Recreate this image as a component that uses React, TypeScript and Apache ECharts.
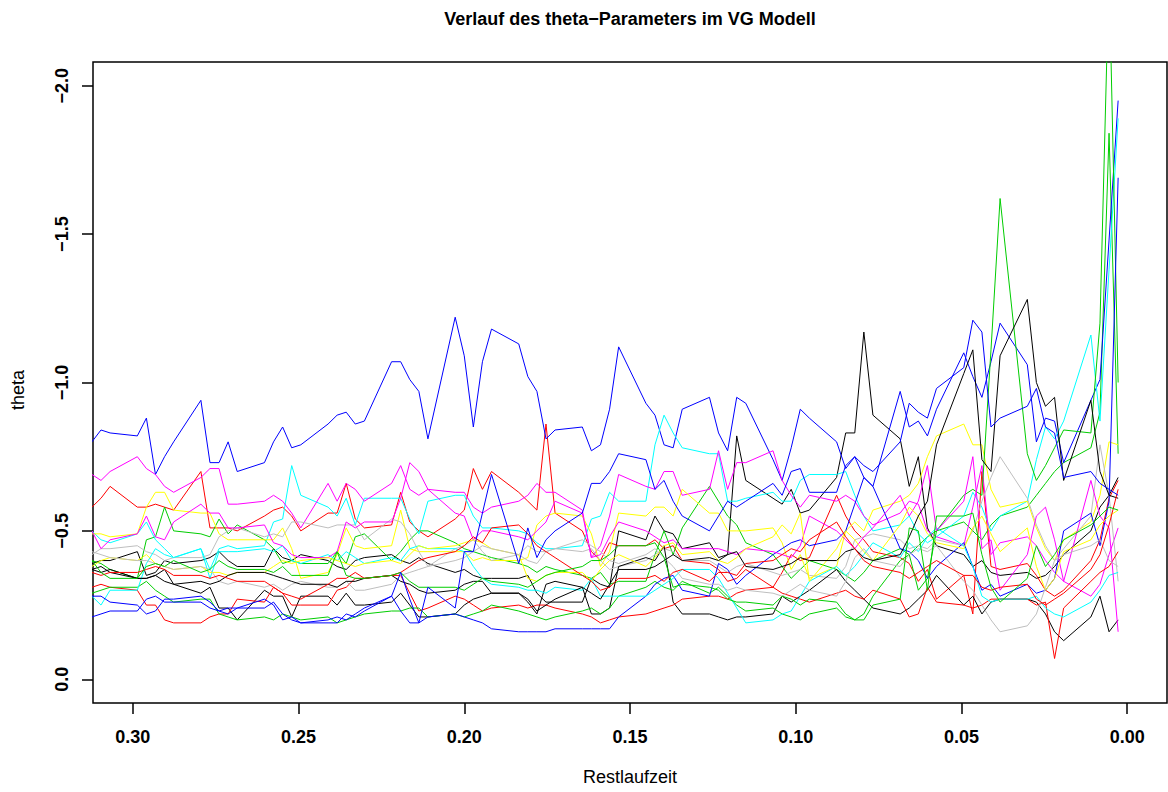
import React, { useEffect, useRef } from 'react';
import * as echarts from 'echarts';

// trading days before expiry (x = days / 365)
const DAYS = [114,113,112, 109,108,107,106,105, 102,101,100,99,98, 95,94,93,92,91, 88,87,86,85,84, 81,80,79,78,77, 74,73,72,71,70, 67,66,65,64,63, 60,59,58,57,56, 53,52,51,50,49, 46,45,44,43,42, 39,38,37,36,35, 32,31,30,29,28, 25,24,23,22,21, 18,17,16,15,14, 11,10,9,8,7, 4,3,2,1];

const X_TICKS = [0, 0.05, 0.1, 0.15, 0.2, 0.25, 0.3];
const Y_TICKS = [0, -0.5, -1, -1.5, -2];

const blackA = [-0.39,-0.40,-0.40, -0.43,-0.35,-0.36,-0.40,-0.39, -0.40,-0.41,-0.43,-0.40,-0.38, -0.38,-0.44,-0.41,-0.40,-0.42, -0.40,-0.38,-0.37,-0.40,-0.41, -0.42,-0.40,-0.39,-0.41,-0.39, -0.36,-0.37,-0.35,-0.34,-0.34, -0.34,-0.35,-0.29,-0.26,-0.26, -0.26,-0.34,-0.32,-0.31,-0.50, -0.47,-0.55,-0.50,-0.49,-0.44, -0.46,-0.41,-0.42,-0.82,-0.67, -0.61,-0.59,-0.64,-0.56,-0.57, -0.68,-0.83,-0.83,-1.17,-0.89, -0.81,-0.65,-0.75,-0.51,-0.45, -0.42,-0.38,-0.40,-0.36,-0.35, -0.36,-0.34,-0.35,-0.38,-0.42, -0.50,-0.58,-0.62,-0.68];
const redA = [-0.58,-0.61,-0.65, -0.58,-0.58,-0.59,-0.58,-0.57, -0.70,-0.51,-0.51,-0.51,-0.50, -0.55,-0.57,-0.58,-0.55,-0.50, -0.56,-0.56,-0.66,-0.54,-0.51, -0.52,-0.63,-0.53,-0.50,-0.48, -0.54,-0.57,-0.71,-0.64,-0.70, -0.63,-0.60,-0.57,-0.86,-0.56, -0.50,-0.43,-0.40,-0.46,-0.45, -0.45,-0.47,-0.44,-0.45,-0.40, -0.39,-0.37,-0.33,-0.34,-0.37, -0.31,-0.36,-0.42,-0.40,-0.41, -0.62,-0.55,-0.50,-0.47,-0.43, -0.41,-0.39,-0.33,-0.37,-0.27, -0.35,-0.22,-0.70,-0.38,-0.37, -0.39,-0.35,-0.30,-0.28,-0.30, -0.40,-0.47,-0.61,-0.67];
const greenA = [-0.40,-0.39,-0.37, -0.34,-0.47,-0.48,-0.58,-0.50, -0.49,-0.48,-0.54,-0.49,-0.52, -0.47,-0.44,-0.39,-0.40,-0.39, -0.39,-0.43,-0.39,-0.48,-0.49, -0.40,-0.43,-0.47,-0.50,-0.50, -0.46,-0.44,-0.43,-0.42,-0.41, -0.39,-0.38,-0.36,-0.38,-0.37, -0.35,-0.34,-0.36,-0.32,-0.33, -0.33,-0.42,-0.50,-0.42,-0.51, -0.65,-0.60,-0.55,-0.52,-0.46, -0.42,-0.38,-0.34,-0.37,-0.40, -0.37,-0.35,-0.33,-0.36,-0.40, -0.44,-0.42,-0.45,-0.48,-0.50, -0.53,-0.50,-0.47,-0.52,-0.55, -0.58,-0.62,-0.66,-0.70,-0.73, -0.78,-0.90,-1.84,-0.76];
const blueA = [-0.80,-0.84,-0.83, -0.82,-0.88,-0.69,-0.75,-0.80, -0.94,-0.73,-0.73,-0.80,-0.70, -0.73,-0.80,-0.85,-0.78,-0.79, -0.86,-0.89,-0.90,-0.86,-0.87, -1.07,-1.07,-1.01,-0.97,-0.81, -1.22,-1.09,-0.85,-1.07,-1.18, -1.13,-1.02,-0.97,-0.81,-0.84, -0.85,-0.77,-0.79,-0.91,-1.12, -0.93,-0.89,-0.79,-0.78,-0.91, -0.95,-0.83,-0.77,-0.95,-0.93, -0.74,-0.67,-0.78,-0.91,-0.88, -0.80,-0.71,-0.75,-0.68,-0.65, -0.97,-0.85,-0.87,-0.82,-0.91, -1.10,-1.02,-0.95,-1.07,-1.20, -1.06,-0.80,-0.88,-0.87,-0.73, -0.94,-1.01,-1.48,-1.95];
const cyanA = [-0.50,-0.47,-0.46, -0.49,-0.53,-0.47,-0.44,-0.41, -0.44,-0.37,-0.44,-0.45,-0.44, -0.45,-0.53,-0.54,-0.72,-0.62, -0.58,-0.55,-0.61,-0.52,-0.61, -0.61,-0.61,-0.54,-0.49,-0.60, -0.62,-0.62,-0.55,-0.51,-0.51, -0.50,-0.49,-0.46,-0.44,-0.44, -0.45,-0.54,-0.55,-0.63,-0.60, -0.60,-0.79,-0.89,-0.83,-0.78, -0.76,-0.76,-0.60,-0.60,-0.61, -0.63,-0.60,-0.60,-0.67,-0.69, -0.69,-0.70,-0.62,-0.55,-0.50, -0.52,-0.55,-0.49,-0.46,-0.48, -0.55,-0.63,-0.58,-0.50,-0.55, -0.60,-0.74,-0.85,-0.81,-0.87, -1.16,-0.87,-1.38,-1.89];
const magentaA = [-0.69,-0.67,-0.70, -0.75,-0.71,-0.69,-0.65,-0.63, -0.68,-0.71,-0.71,-0.59,-0.59, -0.60,-0.62,-0.60,-0.56,-0.51, -0.66,-0.60,-0.66,-0.64,-0.60, -0.66,-0.72,-0.64,-0.62,-0.64, -0.63,-0.63,-0.58,-0.56,-0.58, -0.60,-0.62,-0.66,-0.63,-0.63, -0.57,-0.41,-0.45,-0.55,-0.69, -0.65,-0.64,-0.70,-0.70,-0.62, -0.64,-0.77,-0.64,-0.73,-0.73, -0.77,-0.67,-0.62,-0.58,-0.62, -0.60,-0.62,-0.60,-0.55,-0.52, -0.56,-0.60,-0.59,-0.50,-0.48, -0.45,-0.58,-0.72,-0.42,-0.46, -0.48,-0.45,-0.40,-0.36,-0.33, -0.28,-0.32,-0.42,-0.51];
const yellowA = [-0.49,-0.49,-0.48, -0.49,-0.58,-0.63,-0.63,-0.57, -0.56,-0.56,-0.49,-0.47,-0.47, -0.47,-0.47,-0.51,-0.44,-0.34, -0.36,-0.42,-0.51,-0.45,-0.44, -0.45,-0.57,-0.44,-0.43,-0.43, -0.43,-0.43,-0.40,-0.41,-0.40, -0.40,-0.41,-0.52,-0.55,-0.56, -0.55,-0.49,-0.38,-0.43,-0.56, -0.55,-0.58,-0.58,-0.55,-0.64, -0.56,-0.56,-0.50,-0.50,-0.50, -0.51,-0.46,-0.37,-0.42,-0.34, -0.38,-0.50,-0.53,-0.50,-0.57, -0.60,-0.62,-0.66,-0.75,-0.82, -0.86,-0.79,-0.79,-0.64,-0.58, -0.60,-0.51,-0.44,-0.40,-0.47, -0.53,-0.62,-0.80,-0.79];
const grayA = [-0.42,-0.44,-0.44, -0.45,-0.43,-0.42,-0.40,-0.41, -0.41,-0.42,-0.48,-0.50,-0.51, -0.48,-0.49,-0.48,-0.53,-0.53, -0.51,-0.52,-0.52,-0.52,-0.47, -0.54,-0.53,-0.49,-0.43,-0.38, -0.44,-0.45,-0.47,-0.43,-0.40, -0.42,-0.40,-0.39,-0.43,-0.44, -0.43,-0.44,-0.40,-0.37,-0.38, -0.40,-0.42,-0.44,-0.43,-0.40, -0.40,-0.38,-0.36,-0.38,-0.39, -0.36,-0.35,-0.36,-0.37,-0.35, -0.34,-0.38,-0.47,-0.48,-0.49, -0.47,-0.44,-0.45,-0.44,-0.47, -0.45,-0.50,-0.60,-0.68,-0.75, -0.61,-0.52,-0.45,-0.40,-0.44, -0.55,-0.79,-0.62,-0.33];
const blackB = [-0.37,-0.36,-0.37, -0.34,-0.34,-0.35,-0.37,-0.32, -0.29,-0.31,-0.24,-0.24,-0.20, -0.30,-0.28,-0.28,-0.21,-0.28, -0.28,-0.25,-0.29,-0.25,-0.25, -0.26,-0.29,-0.25,-0.21,-0.21, -0.22,-0.25,-0.27,-0.28,-0.29, -0.29,-0.26,-0.22,-0.32,-0.33, -0.31,-0.22,-0.22,-0.24,-0.38, -0.41,-0.40,-0.45,-0.26,-0.22, -0.22,-0.21,-0.20,-0.21,-0.21, -0.22,-0.28,-0.26,-0.28,-0.30, -0.37,-0.33,-0.30,-0.27,-0.24, -0.22,-0.24,-0.27,-0.30,-0.35, -0.25,-0.28,-0.22,-0.26,-0.27, -0.27,-0.26,-0.22,-0.16,-0.13, -0.21,-0.28,-0.16,-0.20];
const redB = [-0.31,-0.32,-0.31, -0.30,-0.25,-0.25,-0.20,-0.19, -0.19,-0.21,-0.22,-0.22,-0.27, -0.26,-0.31,-0.29,-0.25,-0.25, -0.25,-0.30,-0.31,-0.34,-0.34, -0.35,-0.35,-0.29,-0.23,-0.24, -0.28,-0.27,-0.25,-0.23,-0.24, -0.25,-0.24,-0.25,-0.25,-0.24, -0.22,-0.21,-0.19,-0.20,-0.21, -0.22,-0.23,-0.24,-0.25,-0.27, -0.28,-0.28,-0.27,-0.29,-0.30, -0.31,-0.29,-0.28,-0.27,-0.26, -0.29,-0.30,-0.28,-0.27,-0.30, -0.27,-0.21,-0.22,-0.31,-0.26, -0.25,-0.24,-0.25,-0.27,-0.27, -0.27,-0.25,-0.26,-0.07,-0.24, -0.33,-0.36,-0.38,-0.43];
const greenB = [-0.29,-0.30,-0.31, -0.31,-0.33,-0.30,-0.28,-0.26, -0.27,-0.27,-0.22,-0.21,-0.20, -0.21,-0.20,-0.22,-0.21,-0.20, -0.21,-0.19,-0.20,-0.21,-0.22, -0.23,-0.23,-0.24,-0.24,-0.21, -0.22,-0.21,-0.22,-0.23,-0.25, -0.23,-0.22,-0.21,-0.20,-0.21, -0.23,-0.24,-0.22,-0.24,-0.28, -0.31,-0.33,-0.31,-0.30,-0.33, -0.29,-0.31,-0.28,-0.25,-0.23, -0.24,-0.22,-0.21,-0.20,-0.22, -0.24,-0.21,-0.20,-0.22,-0.28, -0.40,-0.42,-0.30,-0.34,-0.50, -0.62,-0.64,-0.62,-1.11,-1.62, -0.76,-0.67,-0.72,-0.78,-0.84, -0.83,-1.20,-2.39,-1.00];
const blueB = [-0.21,-0.22,-0.23, -0.23,-0.27,-0.28,-0.26,-0.26, -0.26,-0.24,-0.23,-0.22,-0.24, -0.27,-0.25,-0.20,-0.21,-0.19, -0.19,-0.19,-0.22,-0.21,-0.23, -0.28,-0.23,-0.19,-0.19,-0.21, -0.22,-0.21,-0.20,-0.19,-0.17, -0.16,-0.16,-0.16,-0.16,-0.17, -0.17,-0.17,-0.17,-0.17,-0.21, -0.28,-0.32,-0.34,-0.35,-0.30, -0.28,-0.39,-0.37,-0.32,-0.35, -0.42,-0.44,-0.46,-0.47,-0.45, -0.47,-0.50,-0.59,-0.68,-0.65, -0.44,-0.43,-0.40,-0.34,-0.38, -0.46,-0.38,-0.30,-0.32,-0.28, -0.32,-0.29,-0.30,-0.34,-0.50, -0.56,-0.45,-0.60,-1.69];
const cyanB = [-0.28,-0.25,-0.30, -0.30,-0.39,-0.44,-0.42,-0.41, -0.44,-0.34,-0.43,-0.43,-0.43, -0.44,-0.43,-0.45,-0.40,-0.39, -0.42,-0.40,-0.43,-0.41,-0.39, -0.41,-0.40,-0.44,-0.45,-0.44, -0.44,-0.43,-0.38,-0.34,-0.32, -0.31,-0.30,-0.30,-0.29,-0.31, -0.30,-0.34,-0.28,-0.28,-0.28, -0.28,-0.30,-0.32,-0.34,-0.37, -0.37,-0.34,-0.29,-0.24,-0.19, -0.20,-0.22,-0.23,-0.28,-0.33, -0.38,-0.35,-0.38,-0.42,-0.46, -0.41,-0.46,-0.43,-0.48,-0.51, -0.45,-0.38,-0.28,-0.26,-0.27, -0.27,-0.28,-0.24,-0.22,-0.21, -0.26,-0.30,-0.35,-0.36];
const magentaB = [-0.50,-0.44,-0.47, -0.49,-0.55,-0.48,-0.47,-0.53, -0.59,-0.56,-0.56,-0.51,-0.51, -0.52,-0.46,-0.45,-0.42,-0.41, -0.41,-0.43,-0.53,-0.51,-0.53, -0.53,-0.61,-0.73,-0.70,-0.64, -0.56,-0.55,-0.47,-0.50,-0.50, -0.48,-0.47,-0.50,-0.53,-0.60, -0.56,-0.41,-0.42,-0.48,-0.53, -0.50,-0.48,-0.46,-0.47,-0.44, -0.44,-0.44,-0.43,-0.42,-0.44, -0.43,-0.42,-0.41,-0.45,-0.55, -0.50,-0.47,-0.44,-0.48,-0.51, -0.62,-0.55,-0.60,-0.72,-0.50, -0.60,-0.75,-0.44,-0.47,-0.30, -0.42,-0.55,-0.58,-0.47,-0.33, -0.67,-0.55,-0.51,-0.16];
const yellowB = [-0.38,-0.40,-0.41, -0.40,-0.42,-0.39,-0.38,-0.37, -0.38,-0.36,-0.36,-0.35,-0.36, -0.36,-0.38,-0.40,-0.39,-0.40, -0.41,-0.40,-0.39,-0.38,-0.39, -0.40,-0.39,-0.42,-0.45,-0.44, -0.45,-0.46,-0.47,-0.46,-0.44, -0.42,-0.34,-0.33,-0.35,-0.36, -0.36,-0.33,-0.37,-0.40,-0.42, -0.38,-0.41,-0.45,-0.46,-0.42, -0.43,-0.40,-0.39,-0.41,-0.44, -0.48,-0.52,-0.49,-0.56,-0.33, -0.44,-0.50,-0.47,-0.43,-0.40, -0.52,-0.58,-0.55,-0.49,-0.46, -0.44,-0.51,-0.55,-0.49,-0.43, -0.51,-0.38,-0.30,-0.34,-0.43, -0.47,-0.52,-0.55,-0.57];
const grayB = [-0.43,-0.42,-0.41, -0.40,-0.40,-0.39,-0.38,-0.37, -0.38,-0.37,-0.33,-0.32,-0.33, -0.31,-0.32,-0.30,-0.32,-0.33, -0.31,-0.31,-0.33,-0.30,-0.30, -0.32,-0.35,-0.36,-0.37,-0.38, -0.40,-0.41,-0.43,-0.45,-0.44, -0.42,-0.45,-0.43,-0.43,-0.44, -0.47,-0.45,-0.43,-0.40,-0.39, -0.42,-0.44,-0.41,-0.38,-0.34, -0.32,-0.32,-0.30,-0.31,-0.30, -0.29,-0.28,-0.30,-0.32,-0.30, -0.28,-0.33,-0.41,-0.44,-0.40, -0.38,-0.42,-0.44,-0.43,-0.45, -0.33,-0.30,-0.25,-0.20,-0.16, -0.18,-0.22,-0.31,-0.40,-0.42, -0.45,-0.47,-0.40,-0.38];
const blackC = [-0.37,-0.38,-0.36, -0.34,-0.34,-0.35,-0.33,-0.32, -0.33,-0.32,-0.33,-0.35,-0.36, -0.36,-0.35,-0.34,-0.33,-0.32, -0.32,-0.31,-0.33,-0.33,-0.34, -0.35,-0.33,-0.32,-0.30,-0.29, -0.30,-0.32,-0.33,-0.33,-0.29, -0.29,-0.27,-0.23,-0.25,-0.27, -0.31,-0.29,-0.27,-0.32,-0.37, -0.37,-0.38,-0.40,-0.42,-0.40, -0.41,-0.40,-0.42,-0.43,-0.38, -0.37,-0.38,-0.39,-0.41,-0.40, -0.40,-0.43,-0.44,-0.41,-0.40, -0.42,-0.48,-0.55,-0.60,-0.79, -1.03,-1.11,-0.74,-0.70,-1.09, -1.28,-1.00,-0.92,-0.95,-0.67, -0.94,-0.70,-0.62,-0.61];
const redC = [-0.36,-0.35,-0.36, -0.36,-0.37,-0.38,-0.37,-0.35, -0.35,-0.34,-0.35,-0.34,-0.33, -0.33,-0.31,-0.29,-0.28,-0.27, -0.32,-0.34,-0.34,-0.36,-0.34, -0.35,-0.36,-0.38,-0.40,-0.41, -0.43,-0.45,-0.48,-0.46,-0.51, -0.52,-0.49,-0.45,-0.43,-0.41, -0.35,-0.33,-0.30,-0.31,-0.34, -0.34,-0.35,-0.33,-0.36,-0.37, -0.33,-0.36,-0.36,-0.35,-0.39, -0.40,-0.42,-0.44,-0.43,-0.47, -0.53,-0.48,-0.44,-0.40,-0.38, -0.36,-0.34,-0.36,-0.38,-0.40, -0.35,-0.35,-0.31,-0.30,-0.31, -0.32,-0.27,-0.25,-0.27,-0.29, -0.37,-0.42,-0.52,-0.64];
const greenC = [-0.40,-0.36,-0.34, -0.34,-0.38,-0.39,-0.38,-0.40, -0.36,-0.37,-0.40,-0.38,-0.37, -0.37,-0.36,-0.38,-0.35,-0.35, -0.35,-0.43,-0.35,-0.34,-0.34, -0.35,-0.36,-0.33,-0.31,-0.31, -0.31,-0.30,-0.32,-0.34,-0.33, -0.32,-0.31,-0.33,-0.35,-0.36, -0.38,-0.40,-0.40,-0.42,-0.45, -0.45,-0.46,-0.41,-0.31,-0.32, -0.31,-0.30,-0.27,-0.26,-0.26, -0.25,-0.28,-0.27,-0.25,-0.27, -0.26,-0.22,-0.20,-0.20,-0.25, -0.27,-0.51,-0.50,-0.30,-0.55, -0.55,-0.56,-0.42,-0.31,-0.26, -0.34,-0.45,-0.38,-0.42,-0.47, -0.52,-0.55,-0.58,-0.57];
const blueC = [-0.28,-0.28,-0.26, -0.25,-0.22,-0.23,-0.27,-0.27, -0.28,-0.26,-0.23,-0.24,-0.24, -0.24,-0.26,-0.22,-0.20,-0.19, -0.20,-0.21,-0.20,-0.22,-0.24, -0.28,-0.36,-0.27,-0.19,-0.31, -0.24,-0.43,-0.43,-0.56,-0.69, -0.39,-0.51,-0.41,-0.47,-0.50, -0.56,-0.66,-0.66,-0.70,-0.76, -0.74,-0.64,-0.67,-0.60,-0.55, -0.50,-0.55,-0.60,-0.58,-0.60, -0.66,-0.62,-0.70,-0.71,-0.63, -0.63,-0.72,-0.75,-0.72,-0.70, -0.80,-0.93,-0.90,-0.88,-0.98, -1.05,-1.21,-1.17,-0.85,-0.88, -0.92,-0.98,-0.85,-0.83,-0.68, -0.70,-0.66,-0.64,-0.62];

const SERIES_VALUES = [blackA, redA, greenA, blueA, cyanA, magentaA, yellowA, grayA,
  blackB, redB, greenB, blueB, cyanB, magentaB, yellowB, grayB,
  blackC, redC, greenC, blueC];
const PALETTE = ['#000000', '#FF0000', '#00CD00', '#0000FF', '#00FFFF', '#FF00FF', '#FFFF00', '#BEBEBE'];

const FONT = '"Liberation Sans", Arial, Helvetica, sans-serif';

export default function App() {
  const ref = useRef<HTMLDivElement>(null);
  useEffect(() => {
    const chart = echarts.init(ref.current as HTMLDivElement, null, { renderer: 'svg' });
    const minus = (s: string) => s.replace('-', '\u2212');
    chart.setOption({
      animation: false,
      backgroundColor: '#ffffff',
      grid: {
        left: 93, right: 1, top: 62, bottom: 89,
        show: true, borderColor: '#000000', borderWidth: 1.5, backgroundColor: 'transparent',
      },
      xAxis: {
        type: 'value', inverse: true, min: -0.012, max: 0.312, position: 'bottom',
        splitLine: { show: false },
        axisLine: { show: false, onZero: false },
        axisTick: { show: true, inside: false, length: 11, lineStyle: { color: '#000', width: 1.5 }, customValues: X_TICKS },
        axisLabel: {
          customValues: X_TICKS, margin: 25,
          formatter: (v: number) => v.toFixed(2),
          fontFamily: FONT, fontSize: 18, fontWeight: 'bold', color: '#000',
        },
      },
      yAxis: {
        type: 'value', inverse: true, min: -2.08, max: 0.08, position: 'left',
        splitLine: { show: false },
        axisLine: { show: false, onZero: false },
        axisTick: { show: true, inside: false, length: 11, lineStyle: { color: '#000', width: 1.5 }, customValues: Y_TICKS },
        axisLabel: {
          customValues: Y_TICKS, margin: 22, rotate: 90,
          formatter: (v: number) => minus(v.toFixed(1)),
          fontFamily: FONT, fontSize: 18, fontWeight: 'bold', color: '#000',
        },
      },
      graphic: [
        { type: 'text', x: 630, y: 19, silent: true,
          style: { text: 'Verlauf des theta\u2212Parameters im VG Modell', align: 'center', verticalAlign: 'middle',
            fontFamily: FONT, fontSize: 18, fontWeight: 'bold', fill: '#000' } },
        { type: 'text', x: 630, y: 777, silent: true,
          style: { text: 'Restlaufzeit', align: 'center', verticalAlign: 'middle',
            fontFamily: FONT, fontSize: 18, fill: '#000' } },
        { type: 'text', x: 18, y: 390, rotation: Math.PI / 2, silent: true,
          style: { text: 'theta', align: 'center', verticalAlign: 'middle',
            fontFamily: FONT, fontSize: 18, fill: '#000' } },
      ],
      series: SERIES_VALUES.map((vals, k) => ({
        type: 'line',
        name: 'S' + (k + 1),
        data: DAYS.map((d, i) => [d / 365, vals[i]]),
        symbol: 'none', showSymbol: false, silent: true, clip: true,
        lineStyle: { color: PALETTE[k % 8], width: 1 },
        itemStyle: { color: PALETTE[k % 8] },
      })),
    });
    return () => chart.dispose();
  }, []);
  return <div ref={ref} style={{ position: 'absolute', left: 0, top: 0, width: 1168, height: 792, background: '#fff' }} />;
}
